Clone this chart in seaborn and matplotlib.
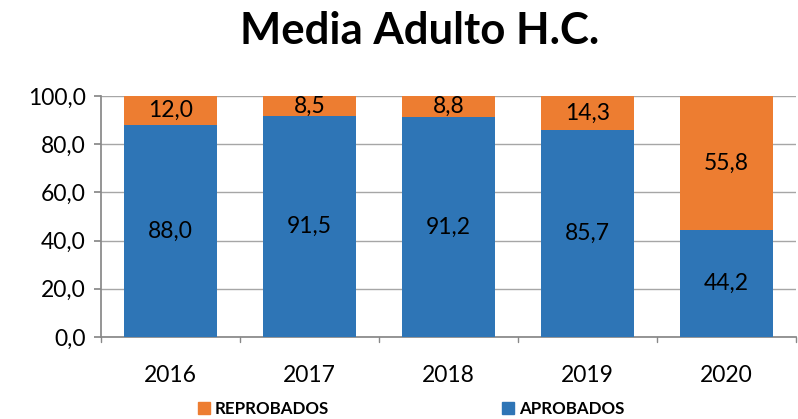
import pandas as pd
import matplotlib.pyplot as plt
import seaborn as sns
from matplotlib.patches import Patch

years = ['2016', '2017', '2018', '2019', '2020']
aprobados = [88.0, 91.5, 91.2, 85.7, 44.2]
reprobados = [12.0, 8.5, 8.8, 14.3, 55.8]

blue = '#2E75B6'
orange = '#ED7D31'

sns.set_theme(style='white')
plt.rcParams['font.family'] = ['Lato', 'DejaVu Sans']
plt.rcParams['text.color'] = 'black'
plt.rcParams['xtick.color'] = 'black'
plt.rcParams['ytick.color'] = 'black'

df = pd.DataFrame({'year': years, 'aprobados': aprobados, 'reprobados': reprobados})
df['total'] = df['aprobados'] + df['reprobados']

fig = plt.figure(figsize=(7.98, 4.19), dpi=100)
ax = fig.add_axes([0.1266, 0.1957, 0.871, 0.5752])

# total first (orange), then blue over the bottom part
sns.barplot(data=df, x='year', y='total', color=orange, width=0.67,
            saturation=1, linewidth=0, ax=ax, zorder=2)
sns.barplot(data=df, x='year', y='aprobados', color=blue, width=0.67,
            saturation=1, linewidth=0, ax=ax, zorder=3)

def fmt(v):
    return f'{v:.1f}'.replace('.', ',')

for i, (a, r) in enumerate(zip(aprobados, reprobados)):
    ax.text(i, a / 2, fmt(a), ha='center', va='center', fontsize=16.5, zorder=5)
    ax.text(i, a + r / 2, fmt(r), ha='center', va='center', fontsize=16.5, zorder=5)

ax.set_ylim(0, 100)
ax.set_xlim(-0.5, 4.5)
ax.set_yticks(range(0, 101, 20))
ax.set_yticklabels([fmt(v) for v in range(0, 101, 20)], fontsize=16.5)
ax.tick_params(axis='x', labelsize=16.5, length=0, pad=20)
ax.tick_params(axis='y', length=5, color='#888888', direction='out', left=True, pad=6)
ax.grid(axis='y', color='#A6A6A6', linewidth=1, zorder=0)
ax.set_axisbelow(True)
ax.set_xlabel('')
ax.set_ylabel('')
for s in ['top', 'right']:
    ax.spines[s].set_visible(False)
ax.spines['left'].set_color('#888888')
ax.spines['bottom'].set_color('#888888')

# tick marks between categories
for k in range(6):
    ax.plot([k - 0.5, k - 0.5], [0, -2.2], color='#888888', lw=1, clip_on=False)

fig.text(0.526, 0.925, 'Media Adulto H.C.', ha='center', va='center',
         fontsize=31.5, fontweight='bold')

handles = [Patch(color=orange, label='REPROBADOS'), Patch(color=blue, label='APROBADOS')]
fig.legend(handles=handles, loc='center', bbox_to_anchor=(0.515, 0.025), ncol=2,
           frameon=False, prop={'weight': 'bold', 'size': 12.2},
           handlelength=0.7, handleheight=0.7, handletextpad=0.3, columnspacing=10.2)

fig.savefig('out.png', dpi=100)
